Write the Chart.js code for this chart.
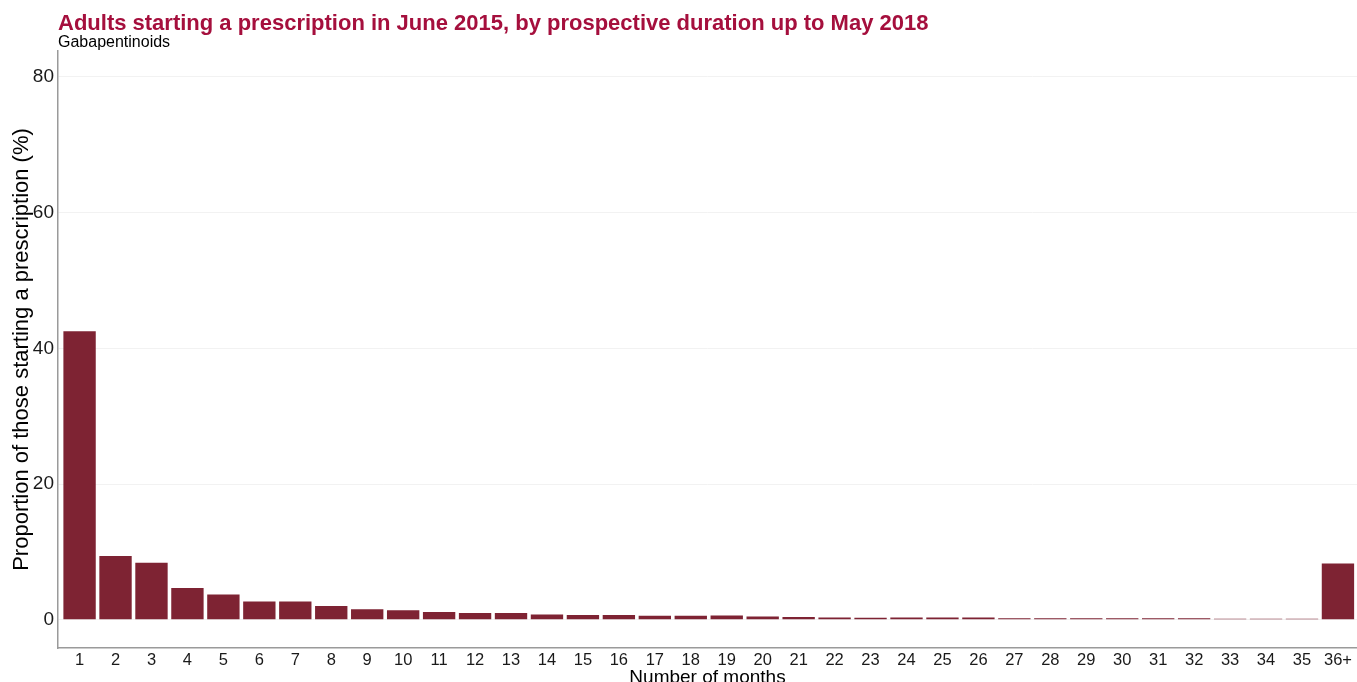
<!DOCTYPE html>
<html>
<head>
<meta charset="utf-8">
<script src="https://cdn.jsdelivr.net/npm/chart.js@4/dist/chart.umd.min.js"></script>
<style>
  html, body { margin: 0; padding: 0; background: #ffffff; }
  #wrap { width: 1357px; height: 682px; position: relative; }
</style>
</head>
<body>
<div id="wrap"><canvas id="c"></canvas></div>
<script>
const months = ['1','2','3','4','5','6','7','8','9','10','11','12','13','14','15','16','17','18','19','20','21','22','23','24','25','26','27','28','29','30','31','32','33','34','35','36+'];
const proportions = [42.5, 9.4, 8.4, 4.7, 3.75, 2.7, 2.7, 2.05, 1.55, 1.4, 1.15, 1.0, 1.0, 0.8, 0.7, 0.7, 0.6, 0.6, 0.65, 0.5, 0.4, 0.35, 0.3, 0.35, 0.35, 0.35, 0.25, 0.25, 0.25, 0.25, 0.25, 0.25, 0.15, 0.15, 0.15, 8.3];
const yTicks = [0, 20, 40, 60, 80];

const FONT = "'Liberation Sans', Arial, sans-serif";
const points = proportions.map((v, i) => ({ x: i, y: v }));

new Chart(document.getElementById('c'), {
  type: 'bar',
  data: {
    datasets: [{
      data: points,
      backgroundColor: '#7e2333',
      borderWidth: 0,
      barPercentage: 0.9,
      categoryPercentage: 1.0
    }]
  },
  options: {
    responsive: true,
    maintainAspectRatio: false,
    animation: false,
    layout: { padding: { top: 13, left: 0, right: 0, bottom: 0 } },
    plugins: {
      legend: { display: false },
      tooltip: { enabled: false },
      title: {
        display: true,
        text: 'Adults starting a prescription in June 2015, by prospective duration up to May 2018',
        align: 'start',
        fullSize: false,
        color: '#a50f3d',
        font: { family: FONT, size: 22, weight: 'bold', lineHeight: 1.0 },
        padding: { top: 0, bottom: 0 }
      },
      subtitle: {
        display: true,
        text: 'Gabapentinoids',
        align: 'start',
        fullSize: false,
        color: '#000000',
        font: { family: FONT, size: 16, lineHeight: 1.0 },
        padding: { top: 0, bottom: 0 }
      }
    },
    scales: {
      x: {
        type: 'linear',
        min: -0.6,
        max: 35.53,
        offset: false,
        afterBuildTicks: (s) => { s.ticks = months.map((m, i) => ({ value: i })); },
        afterFit: (s) => { s.height = 34; },
        ticks: {
          autoSkip: false,
          maxRotation: 0,
          padding: 3,
          color: '#1a1a1a',
          font: { family: FONT, size: 16.5 },
          callback: (v) => months[v] !== undefined ? months[v] : ''
        },
        grid: { display: false, drawTicks: false },
        border: { display: true, color: '#9a9a9a', width: 1.5 },
        title: {
          display: true,
          text: 'Number of months',
          color: '#000000',
          font: { family: FONT, size: 19, lineHeight: 1.2 },
          padding: { top: 0, bottom: -7 }
        }
      },
      y: {
        min: -4.15,
        max: 83.8,
        afterBuildTicks: (s) => { s.ticks = yTicks.map(v => ({ value: v })); },
        afterFit: (s) => { s.width = 58; },
        ticks: {
          padding: 4,
          color: '#1a1a1a',
          font: { family: FONT, size: 19 }
        },
        grid: { color: '#f2f2f2', lineWidth: 1, drawTicks: false },
        border: { display: true, color: '#9a9a9a', width: 1.5 },
        title: {
          display: true,
          text: 'Proportion of those starting a prescription (%)',
          color: '#000000',
          font: { family: FONT, size: 22, lineHeight: 1.2 },
          padding: { top: 9, bottom: 0 }
        }
      }
    }
  }
});
</script>
</body>
</html>
